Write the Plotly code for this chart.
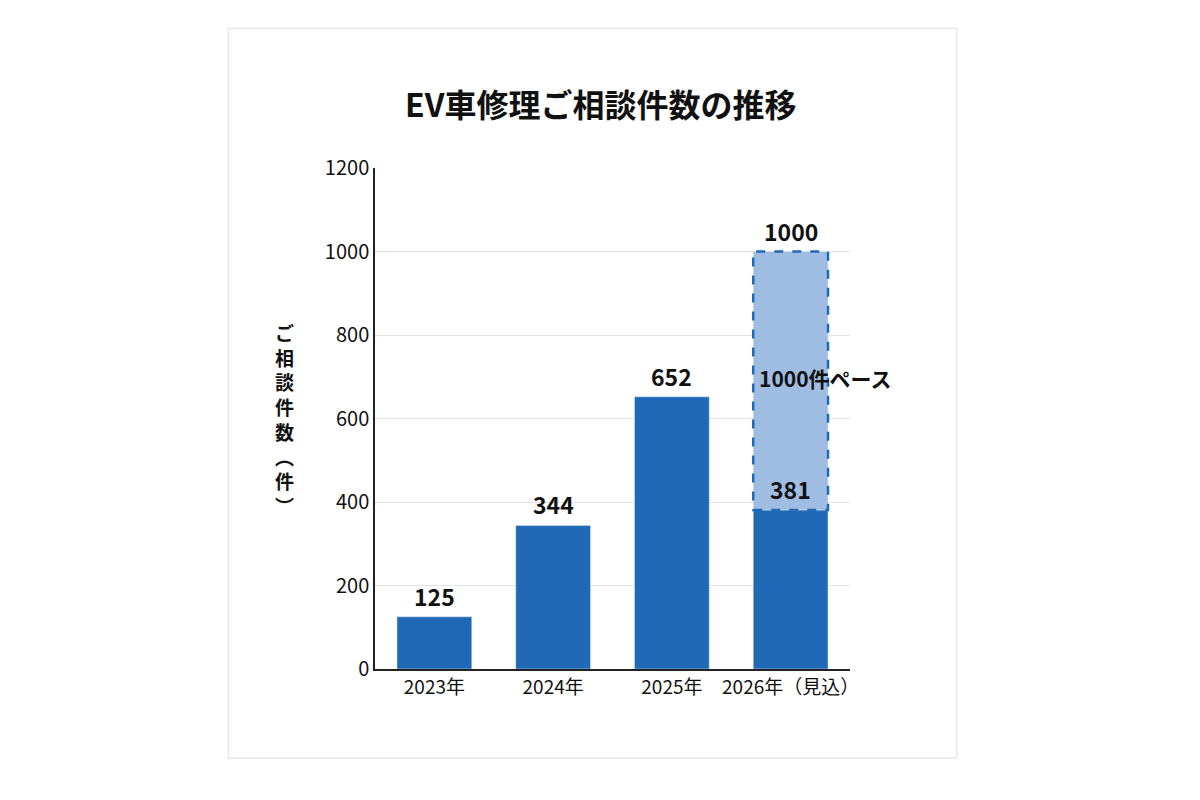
import plotly.graph_objects as go

categories = ["2023年", "2024年", "2025年", "2026年（見込）"]
actual = [125, 344, 652, 381]
projection_total = 1000
projection_label = "1000件ペース"
title = "EV車修理ご相談件数の推移"
ytitle = ["ご", "相", "談", "件", "数", "︵", "件", "︶"]

dark = "#1f69b6"
light = "#9fbde2"
font = "Noto Sans CJK JP"
bw = 0.63

fig = go.Figure()
fig.add_bar(x=categories, y=actual, marker_color=dark, width=bw, hoverinfo="skip")
fig.add_bar(x=[categories[3]], y=[projection_total - actual[3]], base=[actual[3]],
            marker_color=light, width=bw, hoverinfo="skip")

for i, v in enumerate(actual[:3]):
    fig.add_annotation(x=categories[i], y=v, text=f"<b>{v}</b>", showarrow=False,
                       yanchor="bottom", yshift=2, font=dict(size=23, color="#111"))
fig.add_annotation(x=categories[3], y=projection_total, text=f"<b>{projection_total}</b>",
                   showarrow=False, yanchor="bottom", yshift=2, font=dict(size=23, color="#111"))
fig.add_annotation(x=categories[3], y=actual[3], text=f"<b>{actual[3]}</b>", showarrow=False,
                   yanchor="bottom", yshift=2, font=dict(size=23, color="#111"))
fig.add_annotation(x=2.72, xref="x", y=697, text=f"<b>{projection_label}</b>", showarrow=False,
                   xanchor="left", font=dict(size=21, color="#111"))

fig.add_shape(type="rect", xref="x", yref="y", x0=3 - bw / 2, x1=3 + bw / 2,
              y0=actual[3], y1=projection_total,
              line=dict(color=dark, width=2.5, dash="dash"))
fig.add_shape(type="rect", xref="paper", yref="paper", x0=-0.309, x1=1.225, y0=-0.178, y1=1.279,
              line=dict(color="#dddddd", width=1), layer="below")

fig.add_annotation(xref="paper", yref="paper", x=-0.215, y=0.5, showarrow=False,
                   text="<b>" + "<br>".join(ytitle) + "</b>",
                   font=dict(size=19, color="#111"), align="center")

fig.update_layout(
    width=1200, height=800, barmode="overlay", showlegend=False,
    paper_bgcolor="white", plot_bgcolor="white",
    margin=dict(l=367, r=358, t=160, b=139),
    font=dict(family=font, color="#111"),
    title=dict(text=f"<b>{title}</b>", x=0.494, xanchor="center", y=0.878, yanchor="middle",
               font=dict(size=32, color="#111")),
)
fig.update_yaxes(range=[0, 1200], dtick=200, showgrid=True, gridcolor="#e3e3e3",
                 showline=True, linecolor="#222", linewidth=1.5, ticks="", tickfont=dict(size=20),
                 zeroline=False)
fig.update_xaxes(range=[-0.5, 3.5], showline=True, linecolor="#222", linewidth=1.5,
                 tickfont=dict(size=19))
fig.write_html("out.html")
